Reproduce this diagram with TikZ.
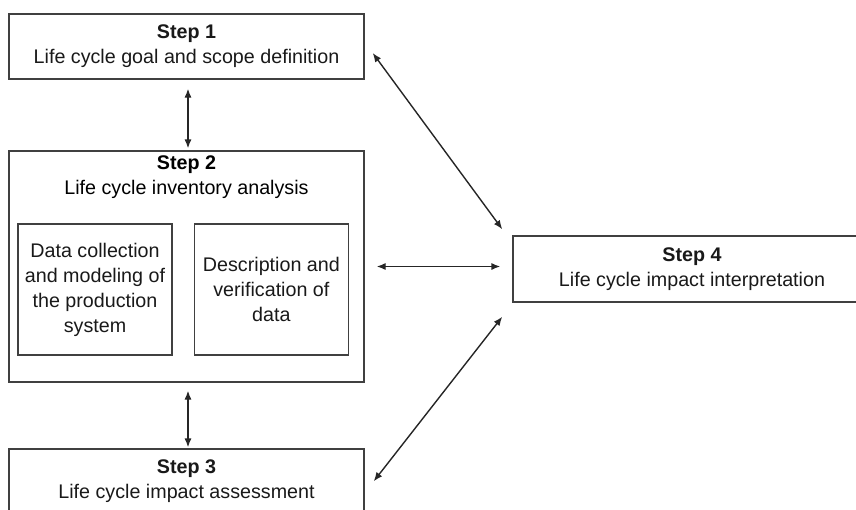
\documentclass[tikz,border=0pt]{standalone}
\usepackage{fontspec}
\setmainfont{Liberation Sans}
\usetikzlibrary{positioning,arrows.meta}

\begin{document}
\begin{tikzpicture}[x=0.5pt, y=-0.5pt, line width=0.7pt,
    font=\fontsize{9.85pt}{12.5pt}\selectfont,
    main/.style = {draw=black!75, align=center, inner sep=0pt, text=black!90},
    stepbox/.style = {main, minimum width=177.5pt, minimum height=32.5pt},
    sub/.style = {main, minimum width=77pt, minimum height=65.5pt},
    arr/.style = {{Latex[length=4.5pt,width=3.6pt]}-{Latex[length=4.5pt,width=3.6pt]}, draw=black!85}]
    \useasboundingbox (0,0) rectangle (856,509);
    \clip (0,0) rectangle (856,509);
    \node[stepbox] (s1) at (186.5,46.5) {\textbf{Step 1}\\Life cycle goal and scope definition};
    \node[stepbox, minimum height=115.5pt] (s2) at (186.5,266.5) {};
    \node[align=center, inner sep=0pt] (s2t) at (186.5,177.5) {\textbf{Step 2}\\Life cycle inventory analysis};
    \node[sub] (dc) at (95,289.5) {Data collection\\and modeling of\\the production\\system};
    \node[sub] (dv) [right=10.5pt of dc] {Description and\\verification of\\data};
    \node[stepbox] (s3) at (186.5,481.5) {\textbf{Step 3}\\Life cycle impact assessment};
    \node[stepbox, minimum width=179pt, minimum height=33pt] (s4) at (692,269) {\textbf{Step 4}\\Life cycle impact interpretation};
    \draw[arr] ([xshift=0.75pt, yshift=-4.5pt]s1.south) -- ([xshift=0.75pt, yshift=1pt]s2.north);
    \draw[arr] ([xshift=0.75pt, yshift=-4pt]s2.south) -- ([xshift=0.75pt, yshift=0.5pt]s3.north);
    \draw[arr] ([xshift=4pt, yshift=-3.25pt]s1.east) -- ([xshift=-5pt, yshift=3pt]s4.north west);
    \draw[arr] ([xshift=6pt]s2.east) -- ([xshift=-6pt]s4.west |- s2.east);
    \draw[arr] ([xshift=4.5pt, yshift=-16.5pt]s3.north east) -- ([xshift=-5pt, yshift=-7pt]s4.south west);
\end{tikzpicture}
\end{document}
